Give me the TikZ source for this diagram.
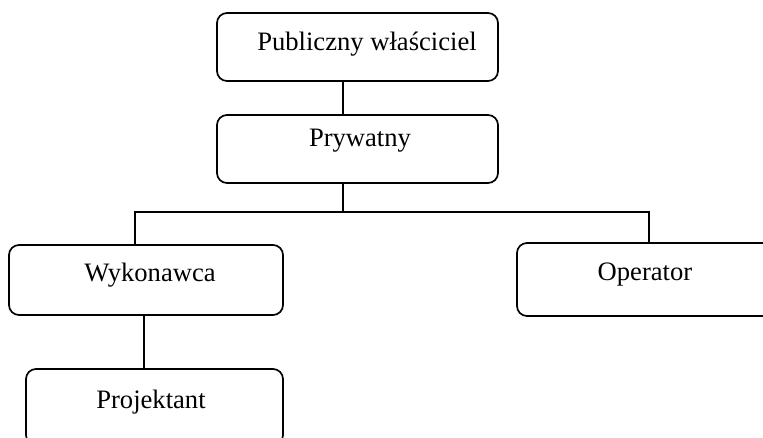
\documentclass[tikz,border=0pt]{standalone}
\usepackage{fontspec}
\setmainfont{Liberation Serif}
\begin{document}
\begin{tikzpicture}[x=1pt,y=-1pt,
  orgbox/.style={draw=black,line width=1.7pt,rounded corners=10pt,
    inner sep=0pt,minimum width=#1},
  orgbox/.default=281pt,
  lbl/.style={anchor=base,inner sep=0pt,font=\fontsize{26.6}{30}\selectfont},
  link/.style={draw=black,line width=1.7pt}]
\fill[white] (0,0) rectangle (763,438);
\clip (0,0) rectangle (763,438);
% boxes
\node[orgbox=281pt,minimum height=68pt] (b1) at (357.5,47) {};
\node[orgbox=281pt,minimum height=68pt] (b2) at (357.5,149) {};
\node[orgbox=274pt,minimum height=70pt] (b3) at (146,280) {};
\node[orgbox=258pt,minimum height=73pt] (b4) at (646,279.5) {};
\node[orgbox=257pt,minimum height=76pt] (b5) at (154.5,407) {};
% labels
\node[lbl] (t1) at (367,51) {Publiczny właściciel};
\node[lbl] (t2) at (360,147) {Prywatny};
\node[lbl] (t3) at (150,282) {Wykonawca};
\node[lbl] (t4) at (645,281) {Operator};
\node[lbl] (t5) at (151,408) {Projektant};
% connector points
\coordinate (busM) at (343,212);
\coordinate (busL) at (135,212);
\coordinate (busR) at (649,212);
\coordinate (spine) at (144,0);
% connectors
\draw[link] (b1.south -| busM) -- (b2.north -| busM);
\draw[link] (b2.south -| busM) -- (busM);
\draw[link] (b3.north -| busL) -- (busL) -- (busR) -- (b4.north -| busR);
\draw[link] (b3.south -| spine) -- (b5.north -| spine);
\end{tikzpicture}
\end{document}
